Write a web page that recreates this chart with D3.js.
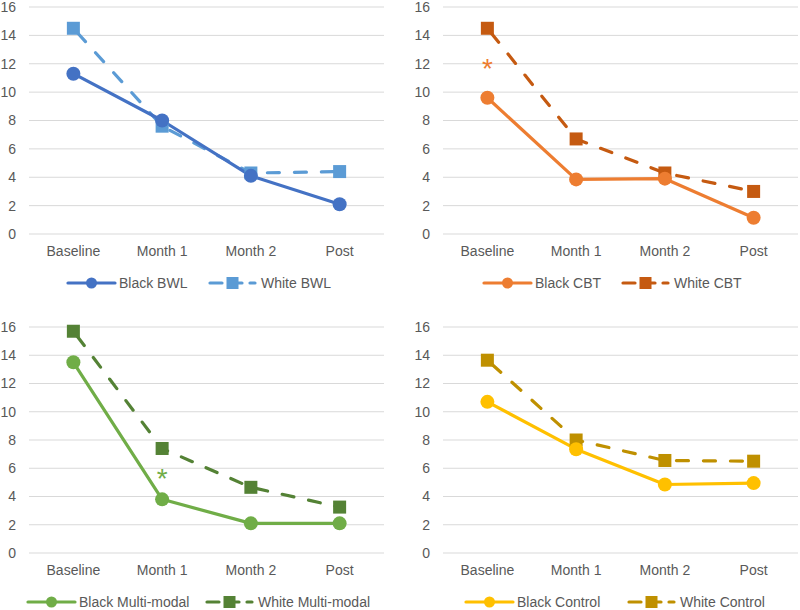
<!DOCTYPE html>
<html><head><meta charset="utf-8">
<script src="https://cdn.jsdelivr.net/npm/d3@7"></script>
<style>body{margin:0;background:#fff}svg{display:block;font-family:"Liberation Sans",Arial,sans-serif}</style>
</head><body>
<svg id="c" width="800" height="610"></svg>
<script>
const categories = ["Baseline","Month 1","Month 2","Post"];
const yTicks = [0,2,4,6,8,10,12,14,16];
const blackBWL = [11.3, 8.0, 4.1, 2.1];
const whiteBWL = [14.5, 7.6, 4.3, 4.4];
const blackCBT = [9.6, 3.85, 3.9, 1.15];
const whiteCBT = [14.5, 6.7, 4.3, 3.0];
const blackMM = [13.5, 3.8, 2.1, 2.1];
const whiteMM = [15.7, 7.4, 4.65, 3.25];
const blackCtl = [10.7, 7.35, 4.85, 4.95];
const whiteCtl = [13.65, 8.0, 6.55, 6.5];
const seriesNames = [["Black BWL","White BWL"],["Black CBT","White CBT"],["Black Multi-modal","White Multi-modal"],["Black Control","White Control"]];
const asterisks = [null, {cat:"Baseline", v:11.9}, {cat:"Month 1", v:5.5}, null];

const panels = [
  {b:blackBWL, w:whiteBWL, cb:"#4472C4", cw:"#5B9BD5", x0:29, x1:384, yTop:7, yBot:234, leg:[68,210]},
  {b:blackCBT, w:whiteCBT, cb:"#ED7D31", cw:"#C55A11", x0:443, x1:798, yTop:7, yBot:234, leg:[484,623]},
  {b:blackMM, w:whiteMM, cb:"#70AD47", cw:"#548235", x0:29, x1:384, yTop:327, yBot:553, leg:[28,207]},
  {b:blackCtl, w:whiteCtl, cb:"#FFC000", cw:"#BF9000", x0:443, x1:798, yTop:327, yBot:553, leg:[466,629]}
];

const svg = d3.select("#c");
panels.forEach((p,i)=>{
  const g = svg.append("g");
  const x = d3.scalePoint().domain(categories).range([p.x0,p.x1]).padding(0.5);
  const y = d3.scaleLinear().domain([0,16]).range([p.yBot,p.yTop]);
  g.selectAll("line.grid").data(yTicks).join("line")
    .attr("x1",p.x0).attr("x2",p.x1).attr("y1",d=>y(d)).attr("y2",d=>y(d))
    .attr("stroke","#d9d9d9").attr("stroke-width",1);
  g.selectAll("text.yl").data(yTicks).join("text")
    .attr("x",p.x0-13).attr("y",d=>y(d)).attr("dy","0.35em")
    .attr("text-anchor","end").attr("font-size",14).attr("fill","#595959").text(d=>d);
  g.selectAll("text.xl").data(categories).join("text")
    .attr("x",d=>x(d)).attr("y",p.yBot+22).attr("text-anchor","middle")
    .attr("font-size",14).attr("fill","#595959").text(d=>d);
  const line = d3.line().x((d,j)=>x(categories[j])).y(d=>y(d));
  g.append("path").datum(p.w).attr("d",line).attr("fill","none").attr("stroke",p.cw)
    .attr("stroke-width",3.2).attr("stroke-dasharray","12,15").attr("stroke-linecap","round")
    .attr("stroke-dashoffset",-6);
  g.append("path").datum(p.b).attr("d",line).attr("fill","none").attr("stroke",p.cb)
    .attr("stroke-width",3.2).attr("stroke-linecap","round").attr("stroke-linejoin","round");
  g.selectAll("rect.m").data(p.w).join("rect")
    .attr("x",(d,j)=>x(categories[j])-6.5).attr("y",d=>y(d)-6.5)
    .attr("width",13).attr("height",13).attr("fill",p.cw);
  g.selectAll("circle.m").data(p.b).join("circle")
    .attr("cx",(d,j)=>x(categories[j])).attr("cy",d=>y(d)).attr("r",7).attr("fill",p.cb);
  if(asterisks[i]){
    g.append("text").attr("x",x(asterisks[i].cat)).attr("y",y(asterisks[i].v)+13)
      .attr("text-anchor","middle").attr("font-size",28).attr("fill",p.cb).text("*");
  }
  const ly = p.yBot+49;
  const lx = p.leg;
  g.append("line").attr("x1",lx[0]).attr("x2",lx[0]+47).attr("y1",ly).attr("y2",ly)
    .attr("stroke",p.cb).attr("stroke-width",3.2).attr("stroke-linecap","round");
  g.append("circle").attr("cx",lx[0]+23.5).attr("cy",ly).attr("r",5.5).attr("fill",p.cb);
  g.append("text").attr("x",lx[0]+51).attr("y",ly).attr("dy","0.35em").attr("font-size",14)
    .attr("fill","#595959").text(seriesNames[i][0]);
  g.append("line").attr("x1",lx[1]).attr("x2",lx[1]+45).attr("y1",ly).attr("y2",ly)
    .attr("stroke",p.cw).attr("stroke-width",3.2).attr("stroke-dasharray","12,8").attr("stroke-linecap","round");
  g.append("rect").attr("x",lx[1]+22.5-6).attr("y",ly-6).attr("width",12).attr("height",12).attr("fill",p.cw);
  g.append("text").attr("x",lx[1]+51).attr("y",ly).attr("dy","0.35em").attr("font-size",14)
    .attr("fill","#595959").text(seriesNames[i][1]);
});
</script>
</body></html>
